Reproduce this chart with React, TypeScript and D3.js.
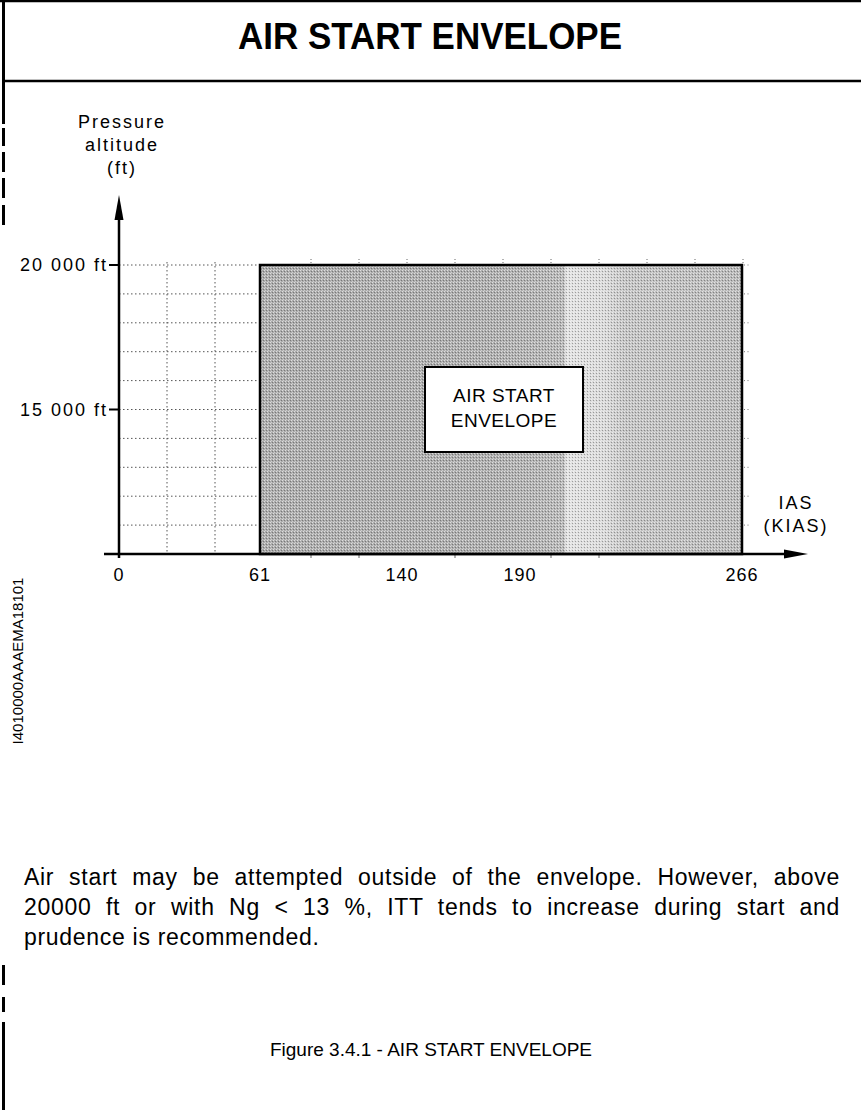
import { useLayoutEffect, useRef, useState } from "react";
import * as d3 from "d3";

// speed breakpoints (KIAS) and where they sit on the sketch (the chart is schematic, not linear)
const iasTicks = [0, 61, 140, 190, 266];
const iasPixels = [119, 260, 402, 520, 742];
const envelopeIas = [61, 266];

// altitude (ft)
const altDomain = [10000, 20000];
const altLabels = [
  { alt: 20000, text: "20 000 ft" },
  { alt: 15000, text: "15 000 ft" },
];
const altGrid = [11000, 12000, 13000, 14000, 15000, 16000, 17000, 18000, 19000, 20000];
const envelopeAlt = [10000, 20000];

// background grid columns (index on the drawing's uniform grid)
const gridColsLeft = [1, 2];
const gridColsTop = [4, 5, 6, 7, 8, 9, 10, 11, 12, 13];
const gridColsBottom = [4, 5, 7, 9, 10];

const bodyLines = [
  "Air start may be attempted outside of the envelope. However, above",
  "20000 ft or with Ng < 13 %, ITT tends to increase during start and",
  "prudence is recommended.",
];

const W = 861;
const H = 1110;
const font = "'Liberation Sans', Arial, Helvetica, sans-serif";

export default function App() {
  const x = d3.scaleLinear().domain(iasTicks).range(iasPixels);
  const y = d3.scaleLinear().domain(altDomain).range([554, 265]);
  const grid = d3.scaleLinear().domain([0, 13]).range([119, 743]);

  const bodyRefs = useRef<(SVGTextElement | null)[]>([]);
  const [wordSpacing, setWordSpacing] = useState<number[]>([0, 0, 0]);
  const bodyLeft = 24;
  const bodyRight = 840;

  useLayoutEffect(() => {
    const sp = bodyLines.map((line, i) => {
      const el = bodyRefs.current[i];
      if (!el || i === bodyLines.length - 1) return 0;
      const natural = el.getComputedTextLength();
      const gaps = line.split(" ").length - 1;
      return (bodyRight - bodyLeft - natural) / gaps;
    });
    setWordSpacing(sp);
  }, []);

  const ex0 = x(envelopeIas[0]);
  const ex1 = x(envelopeIas[1]);
  const ey0 = y(envelopeAlt[1]);
  const ey1 = y(envelopeAlt[0]);
  const ew = ex1 - ex0;
  const off = (px: number) => (px - ex0) / ew;

  const axisY = y(altDomain[0]);
  const axisX = x(0);

  return (
    <svg
      width={W}
      height={H}
      style={{ position: "absolute", left: 0, top: 0, background: "#fff" }}
      fontFamily={font}
    >
      <defs>
        <linearGradient id="envFill" x1="0" x2="1" y1="0" y2="0">
          <stop offset={0} stopColor="#acacac" />
          <stop offset={off(490)} stopColor="#adadad" />
          <stop offset={off(545)} stopColor="#b4b4b4" />
          <stop offset={off(564)} stopColor="#b8b8b8" />
          <stop offset={off(566)} stopColor="#e2e2e2" />
          <stop offset={off(605)} stopColor="#d9d9d9" />
          <stop offset={off(625)} stopColor="#c4c4c4" />
          <stop offset={1} stopColor="#b8b8b8" />
        </linearGradient>
        <pattern id="dither" width={3} height={3} patternUnits="userSpaceOnUse">
          <rect x={0} y={0} width={1} height={1} fill="#fff" opacity={0.6} />
          <rect x={2} y={1} width={1} height={1} fill="#000" opacity={0.3} />
          <rect x={1} y={2} width={1} height={1} fill="#fff" opacity={0.4} />
        </pattern>
      </defs>

      {/* page frame and change bars */}
      <line x1={0} x2={W} y1={1} y2={1} stroke="#000" strokeWidth={2.5} />
      <line x1={3} x2={W} y1={81} y2={81} stroke="#000" strokeWidth={2.5} />
      <line x1={3.5} x2={3.5} y1={0} y2={124} stroke="#000" strokeWidth={3} />
      {[
        [128, 146],
        [152, 172],
        [178, 198],
        [205, 225],
        [965, 985],
        [997, 1012],
        [1022, 1110],
      ].map(([a, b]) => (
        <line key={a} x1={3.5} x2={3.5} y1={a} y2={b} stroke="#000" strokeWidth={3} />
      ))}

      <text
        x={430}
        y={49}
        textAnchor="middle"
        fontSize={37}
        fontWeight="bold"
        textLength={384}
        lengthAdjust="spacingAndGlyphs"
      >
        AIR START ENVELOPE
      </text>

      {/* dotted grid left of envelope */}
      {altGrid.map((a) => (
        <line
          key={a}
          x1={axisX}
          x2={ex0}
          y1={y(a)}
          y2={y(a)}
          stroke="#555"
          strokeWidth={1}
          strokeDasharray="1.5 2.5"
        />
      ))}
      {gridColsLeft.map((c) => (
        <line
          key={c}
          x1={grid(c)}
          x2={grid(c)}
          y1={ey0 - 3}
          y2={axisY}
          stroke="#555"
          strokeWidth={1}
          strokeDasharray="1.5 2.5"
        />
      ))}
      {gridColsTop.map((c) => (
        <line key={c} x1={grid(c)} x2={grid(c)} y1={ey0 - 6} y2={ey0 - 2} stroke="#666" strokeWidth={1} strokeDasharray="1 2" />
      ))}
      {gridColsBottom.map((c) => (
        <line key={c} x1={grid(c)} x2={grid(c)} y1={axisY + 1} y2={axisY + 4} stroke="#666" strokeWidth={1} />
      ))}
      {altGrid.map((a) => (
        <line key={a} x1={ex1 + 2} x2={ex1 + 8} y1={y(a)} y2={y(a)} stroke="#777" strokeWidth={1} strokeDasharray="1 2.5" />
      ))}

      {/* envelope */}
      <rect x={ex0} y={ey0} width={ew} height={ey1 - ey0} fill="url(#envFill)" />
      <rect x={ex0} y={ey0} width={ew} height={ey1 - ey0} fill="url(#dither)" />
      <rect x={ex0} y={ey0} width={ew} height={ey1 - ey0} fill="none" stroke="#000" strokeWidth={2.5} />

      {/* label box */}
      <rect x={425} y={367} width={158} height={85} fill="#fff" stroke="#000" strokeWidth={2} />
      <text x={504} y={402} textAnchor="middle" fontSize={19} letterSpacing={0.5}>
        AIR START
      </text>
      <text x={504} y={427} textAnchor="middle" fontSize={19} letterSpacing={0.5}>
        ENVELOPE
      </text>

      {/* axes */}
      <line x1={104} x2={790} y1={axisY} y2={axisY} stroke="#000" strokeWidth={2.5} />
      <path d={`M${808},${axisY} L${784},${axisY - 4.5} L${784},${axisY + 4.5} Z`} fill="#000" />
      <line x1={axisX} x2={axisX} y1={axisY + 4} y2={212} stroke="#000" strokeWidth={2.5} />
      <path d={`M${axisX},${195} L${axisX - 4.5},${220} L${axisX + 4.5},${220} Z`} fill="#000" />

      {altLabels.map((d) => (
        <g key={d.alt}>
          <line x1={109} x2={axisX} y1={y(d.alt)} y2={y(d.alt)} stroke="#000" strokeWidth={2} />
          <text x={108} y={y(d.alt) + 6} textAnchor="end" fontSize={18} letterSpacing={2}>
            {d.text}
          </text>
        </g>
      ))}

      {iasTicks.map((v) => (
        <text key={v} x={x(v)} y={581} textAnchor="middle" fontSize={18} letterSpacing={1}>
          {v}
        </text>
      ))}

      <g fontSize={18} letterSpacing={2} textAnchor="middle">
        <text x={122} y={128}>Pressure</text>
        <text x={122} y={151}>altitude</text>
        <text x={122} y={174}>(ft)</text>
        <text x={796} y={509}>IAS</text>
        <text x={796} y={532}>(KIAS)</text>
      </g>

      <text
        transform="translate(19,661) rotate(-90)"
        textAnchor="middle"
        dominantBaseline="middle"
        fontSize={15}
      >
        I4010000AAAEMA18101
      </text>

      {bodyLines.map((line, i) => (
        <text
          key={i}
          ref={(el) => {
            bodyRefs.current[i] = el;
          }}
          x={bodyLeft}
          y={885 + i * 30}
          fontSize={23}
          letterSpacing={0.7}
          wordSpacing={wordSpacing[i]}
          xmlSpace="preserve"
        >
          {line}
        </text>
      ))}

      <text x={431} y={1056} textAnchor="middle" fontSize={19}>
        Figure 3.4.1 - AIR START ENVELOPE
      </text>
    </svg>
  );
}
